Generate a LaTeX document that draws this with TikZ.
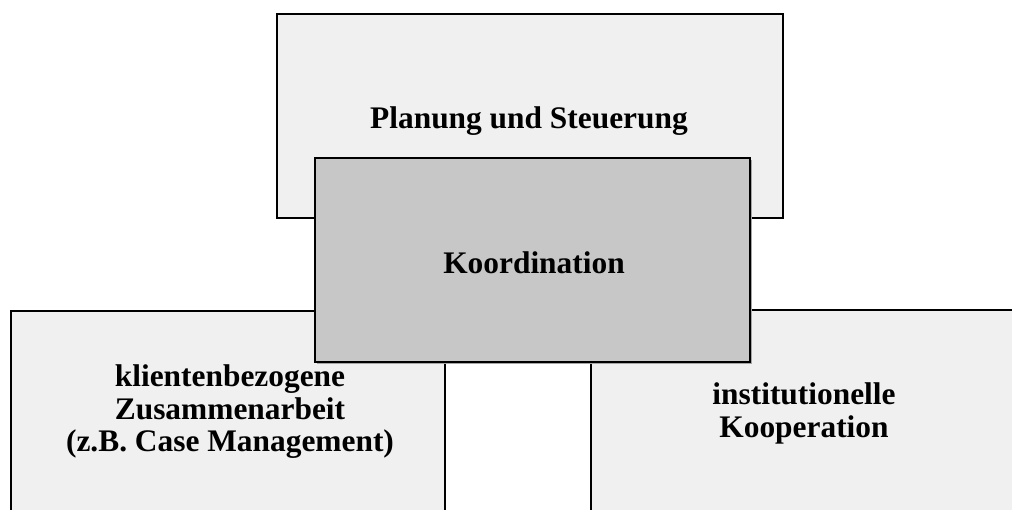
\documentclass[tikz,border=0pt]{standalone}
\usepackage{fontspec}
\setmainfont{Liberation Serif}
\definecolor{lightbox}{HTML}{F0F0F0}
\definecolor{midbox}{HTML}{C7C7C7}
\tikzset{
  box/.style={draw=black, line width=1.6pt, fill=lightbox, rectangle, inner sep=0pt},
  centralbox/.style={box, fill=midbox},
  label/.style={font=\fontsize{31.4}{32.5}\selectfont\bfseries, align=center, inner sep=0pt, anchor=base},
}
\begin{document}
\begin{tikzpicture}[x=1pt,y=-1pt]
\useasboundingbox (0,0) rectangle (1012,509);
\clip (0,0) rectangle (1012,509);
\fill[white] (0,0) rectangle (1012,509);
% top box
\node[box, minimum width=506pt, minimum height=204pt] (plan) at (530,116) {};
% lower boxes (extend below the page)
\node[box, minimum width=434pt, minimum height=240pt] (klient) at (228,431) {};
\node[box, minimum width=440pt, minimum height=240pt] (inst) at (811,430) {};
% shadow and central box
\fill[gray!70] (317,160) rectangle (752,364);
\node[centralbox, minimum width=435pt, minimum height=204pt] (koord) at (532.5,260) {};
% texts
\node[label] (tplan) at (529,128) {Planung und Steuerung};
\node[label] (tkoord) at (534,273) {Koordination};
\node[label, anchor=north] (tklient) at (230,365) {klientenbezogene\\Zusammenarbeit\\(z.B. Case Management)};
\node[label, anchor=north] (tinst) at (804,383) {institutionelle\\Kooperation};
\end{tikzpicture}
\end{document}
